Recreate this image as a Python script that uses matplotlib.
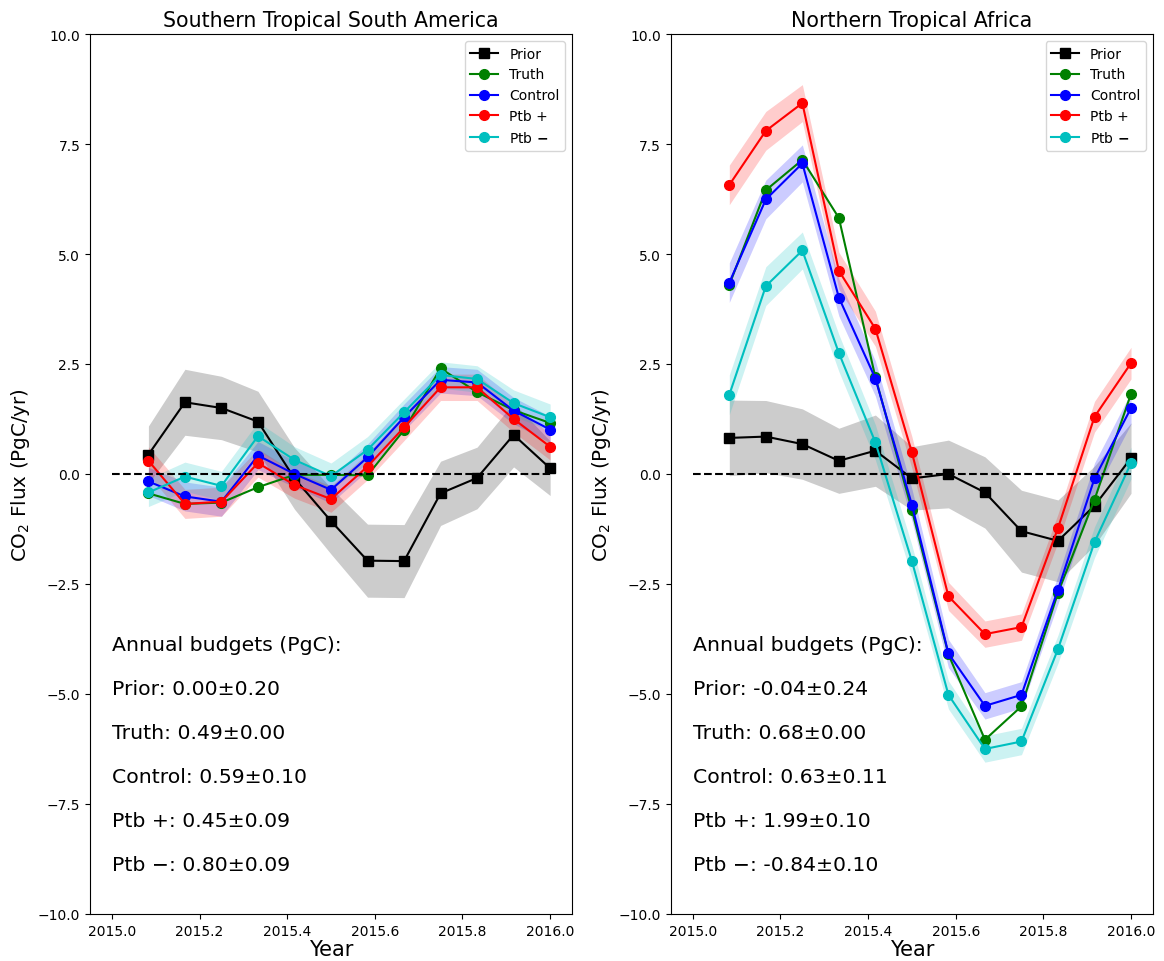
import matplotlib
matplotlib.use('Agg')
import matplotlib.pyplot as plt
import numpy as np

# monthly time axis (end of each month)
months = np.arange(1, 13)
t = 2015 + months / 12.0

# Southern Tropical South America
sa_prior = [0.44, 1.63, 1.50, 1.19, -0.10, -1.07, -1.97, -1.98, -0.44, -0.09, 0.89, 0.13]
sa_prior_sd = [0.65, 0.75, 0.72, 0.69, 0.70, 0.75, 0.83, 0.83, 0.73, 0.70, 0.73, 0.62]
sa_truth = [-0.44, -0.68, -0.65, -0.30, -0.02, -0.02, -0.03, 1.00, 2.40, 1.86, 1.45, 1.16]
sa_ctrl = [-0.17, -0.51, -0.63, 0.42, 0.00, -0.36, 0.38, 1.29, 2.14, 2.08, 1.44, 1.01]
sa_ptbp = [0.30, -0.68, -0.63, 0.25, -0.25, -0.57, 0.17, 1.06, 1.97, 1.97, 1.25, 0.62]
sa_ptbm = [-0.42, -0.06, -0.27, 0.86, 0.32, -0.05, 0.55, 1.40, 2.25, 2.16, 1.61, 1.29]
sa_inv_sd = [0.32, 0.33, 0.33, 0.32, 0.30, 0.30, 0.30, 0.30, 0.30, 0.30, 0.30, 0.30]
sa_budget = ['Prior: 0.00\u00b10.20', 'Truth: 0.49\u00b10.00', 'Control: 0.59\u00b10.10',
             'Ptb +: 0.45\u00b10.09', 'Ptb \u2212: 0.80\u00b10.09']

# Northern Tropical Africa
af_prior = [0.82, 0.85, 0.68, 0.30, 0.53, -0.10, 0.00, -0.42, -1.30, -1.52, -0.72, 0.36]
af_prior_sd = [0.86, 0.82, 0.80, 0.74, 0.81, 0.72, 0.77, 0.81, 0.93, 0.93, 0.90, 0.80]
af_truth = [4.30, 6.45, 7.14, 5.82, 2.20, -0.82, -4.10, -6.04, -5.28, -2.70, -0.58, 1.82]
af_ctrl = [4.35, 6.24, 7.06, 4.01, 2.17, -0.70, -4.08, -5.27, -5.02, -2.63, -0.10, 1.50]
af_ptbp = [6.57, 7.80, 8.43, 4.62, 3.30, 0.49, -2.78, -3.64, -3.48, -1.23, 1.30, 2.52]
af_ptbm = [1.80, 4.27, 5.08, 2.75, 0.72, -1.98, -5.02, -6.25, -6.08, -3.98, -1.55, 0.25]
af_inv_sd = [0.45, 0.44, 0.42, 0.42, 0.40, 0.36, 0.32, 0.30, 0.30, 0.32, 0.35, 0.36]
af_budget = ['Prior: -0.04\u00b10.24', 'Truth: 0.68\u00b10.00', 'Control: 0.63\u00b10.11',
             'Ptb +: 1.99\u00b10.10', 'Ptb \u2212: -0.84\u00b10.10']

titles = ('Southern Tropical South America', 'Northern Tropical Africa')

fig, axes = plt.subplots(nrows=1, ncols=2, figsize=(11.64, 9.62), dpi=100)
fig.subplots_adjust(left=0.0773, right=0.9905, top=0.9636, bottom=0.0489, wspace=0.205)

panels = [
    (sa_prior, sa_prior_sd, sa_truth, sa_ctrl, sa_ptbp, sa_ptbm, sa_inv_sd, sa_budget),
    (af_prior, af_prior_sd, af_truth, af_ctrl, af_ptbp, af_ptbm, af_inv_sd, af_budget),
]

for ax, title, p in zip(axes, titles, panels):
    prior, prior_sd, truth, ctrl, ptbp, ptbm, inv_sd = [np.asarray(a) for a in p[:7]]
    budget = p[7]

    # prior with its uncertainty
    ax.fill_between(t, prior - prior_sd, prior + prior_sd, color='k', alpha=0.2, lw=0)
    ax.plot(t, prior, 'ks-', ms=7, lw=1.5, label='Prior')
    ax.plot(t, truth, 'o-', color='g', ms=7, lw=1.5, label='Truth')
    # inversions with their uncertainty
    for y, c, lab in zip((ctrl, ptbp, ptbm), ('b', 'r', 'c'),
                         ('Control', 'Ptb +', r'Ptb $\mathbf{-}$')):
        ax.fill_between(t, y - inv_sd, y + inv_sd, color=c, alpha=0.2, lw=0)
        ax.plot(t, y, 'o-', color=c, ms=7, lw=1.5, label=lab)

    ax.plot([2015.0, 2016.0], [0, 0], 'k--', lw=1.5)

    ax.set_ylim(-10, 10)
    ax.set_yticks(np.arange(-10, 10.1, 2.5))
    ax.set_title(title, fontsize=14.8)
    ax.set_xlabel('Year', fontsize=15, labelpad=1)
    ax.set_ylabel(r'CO$_2$ Flux (PgC/yr)', fontsize=14.3)
    ax.legend(loc='upper right', fontsize=10)

    ax.text(2015.0, -4, 'Annual budgets (PgC):', fontsize=14.7)
    for i, s in enumerate(budget):
        ax.text(2015.0, -5 - i, s, fontsize=14.7)

plt.savefig('out.png', dpi=100)
